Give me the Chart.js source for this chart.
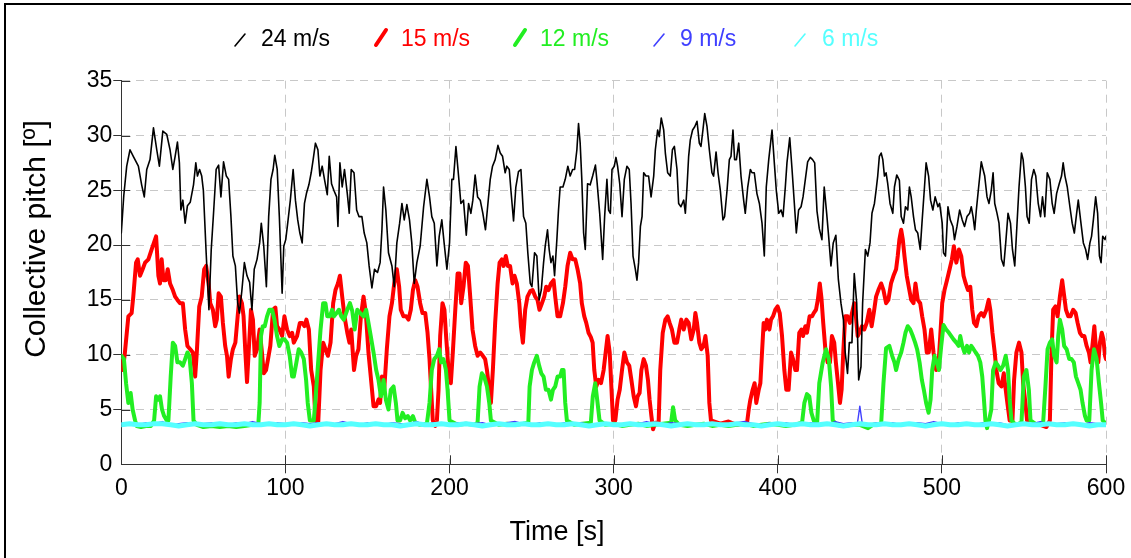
<!DOCTYPE html>
<html><head><meta charset="utf-8">
<script src="https://cdn.jsdelivr.net/npm/chart.js@4.4.0/dist/chart.umd.min.js"></script>
<style>html,body{margin:0;padding:0;background:#fff;}canvas{display:block;}</style>
</head><body>
<canvas id="c" width="1131" height="558"></canvas>
<script>
const seriesNames = ['24 m/s', '15 m/s', '12 m/s', '9 m/s', '6 m/s'];
const xTickValues = [0, 100, 200, 300, 400, 500, 600];
const yTickValues = [0, 5, 10, 15, 20, 25, 30, 35];
const xTitle = 'Time [s]';
const yTitle = 'Collective pitch [º]';

// [time s, pitch deg]
const pitch24 = [[0,21.1],[1.5,24.5],[3.3,27.2],[5.3,28.7],[7.3,28.1],[10.4,27.2],[12.4,25.5],[14,24.4],[15.5,26.9],[17.5,27.8],[19.6,30.7],[21.6,28.7],[23.2,27.2],[25.3,30.4],[27.7,30.1],[29.7,28.7],[31.4,26.9],[32.8,28.1],[34.2,29.4],[35.4,27.5],[36.3,23.2],[37.5,24.1],[38.9,22],[40.3,23.6],[42,23.9],[44,25.5],[45.4,27.5],[46.4,26.3],[47.7,26.9],[49,26.3],[50,25],[51.7,19.3],[53.4,14.1],[54.8,19.6],[56.2,22.9],[57.8,26.9],[59.3,27.3],[60.7,24.4],[62.3,27.6],[64,26.3],[65.4,26],[66.8,22.6],[68,19],[69.5,18.1],[70.9,14.7],[72,13.8],[73.5,15.9],[75,18.4],[76.6,17.2],[78.2,16.6],[79.6,14.1],[81,17.8],[82.7,18.7],[84.3,20.2],[85.3,22],[86.8,19.9],[88.4,16.2],[89.8,22.6],[91.2,26],[92.5,26.9],[93.5,28.2],[95,26.9],[96.3,22.6],[98,15.6],[99,19.9],[100.2,20.5],[101.4,22],[103,24.1],[104.7,26.9],[106.1,24.1],[107.5,22.3],[108.8,21.1],[110.2,20.2],[111.6,23.8],[112.8,24.7],[114.3,25.5],[115.7,26.6],[116.9,27.8],[118.3,29.3],[119.8,28.7],[121,26.3],[122.4,27.2],[123.8,26],[125.5,24.6],[126.7,28.1],[128.1,25.6],[129.5,25],[131.2,24.4],[132,21.7],[133.2,27.5],[134.6,25.3],[136,26.9],[137.7,24.7],[138.9,22.9],[140.1,26.9],[141.8,26.6],[143.4,23.2],[144.8,22.6],[146.6,22.6],[148,21.1],[149.6,20.2],[151,18.1],[152.7,16.1],[154.3,17.8],[156.1,17.5],[157.7,18.4],[158.8,21.4],[159.8,25.3],[161.2,23.2],[162.8,19.3],[164.9,18.1],[166.3,16.2],[167.9,20.2],[169.6,22],[171,23.8],[172.4,22.3],[174,23.7],[175.6,22.3],[177,20.2],[178.5,16.5],[180.1,18.4],[182.1,19.9],[184.2,23.5],[186.2,26],[187.8,24.4],[189.2,22.6],[190.7,22],[192.3,18.1],[193.7,20.8],[195.3,22.3],[196.7,20.2],[198.4,17.8],[200,20.2],[201.4,26],[202.4,26],[203.9,29],[205.5,26.3],[206.9,23.8],[208.5,24.1],[210.2,20.9],[211.6,23.8],[213,22.9],[214.2,24.1],[215.6,26.4],[217.1,24.4],[218.7,24.1],[220.3,22.9],[221.9,21.4],[223.4,23.8],[224.8,26],[226.2,27.2],[227.8,27.8],[229.5,29.1],[230.9,28.4],[232.3,28.1],[233.9,26.6],[234.9,27.2],[236.4,26.9],[237.4,25],[239,22.2],[240.4,25.3],[242,26.7],[243.5,26.9],[245.1,22.6],[246.5,22],[247.7,19.3],[249.2,16.5],[250.2,16.2],[251.8,19.3],[253.2,19],[254.6,15],[255.9,15.9],[257.3,18.4],[258.3,19.9],[259.7,21.4],[260.7,19.6],[261.8,18.4],[263,19],[264,17.2],[265.4,20.5],[266.4,23.2],[267.4,25.3],[269.1,25.3],[270.5,26],[272.1,27.2],[273.5,26.3],[275,26.9],[276.2,26.9],[277.6,28.7],[278.6,31.1],[279.6,29.3],[280.6,26],[281.7,21.1],[282.7,19.6],[284.1,25.6],[285.7,25.5],[287.2,26.3],[288.9,27.3],[289.8,25.9],[291.5,22.9],[293.3,18.7],[294.5,22.6],[295.9,26],[296.9,23.2],[298,22.9],[299,26.9],[300.4,27.2],[301.4,28],[302.4,27.2],[303.7,25.6],[305.1,22.6],[306.5,26],[308.1,27.2],[309.5,26.9],[310.6,23.8],[311.8,19],[313.2,17.8],[314.2,16.8],[315.2,18.4],[316.3,21.7],[317.3,22.6],[318.3,26.6],[319.7,26.3],[321.3,26.3],[322.8,24.4],[324.4,26.3],[325.4,28.7],[326.8,30.5],[327.8,29.9],[329,31.6],[330.5,30.5],[331.5,28.4],[332.9,26.6],[334.5,26.3],[335.8,28.7],[337,29],[338.6,26.9],[339.6,23.8],[341,23.5],[342.7,24.1],[343.7,22.9],[344.7,25.3],[345.7,28.1],[346.7,29.6],[348.1,30.5],[349.4,30.8],[350.8,31.3],[352.2,29.3],[353.2,29],[354.4,30.5],[355.5,32],[356.9,30.8],[358.3,28.7],[359.9,26.6],[360.9,26.3],[362.4,28.5],[363.6,26.6],[365,25],[366.6,22.3],[367.6,22.6],[369.1,25],[370.5,27.8],[371.5,28.1],[372.7,30.5],[373.7,27.8],[374.8,27.8],[376.2,29.3],[377.6,26.3],[379.2,24.1],[380.2,22.9],[381.7,25.3],[383.3,26.9],[384.3,26.6],[385.7,26.6],[387.3,24.7],[388.8,23.8],[390.4,22],[391.8,19],[393,25.3],[394.5,27.8],[396.5,30.5],[397.9,27.5],[399.1,25],[400.6,22.9],[402,23.2],[403.2,22.6],[404.6,25.3],[405.6,27.5],[407.3,29.8],[408.7,26.9],[410.1,23.8],[411.3,21.1],[412.7,23.2],[414.2,23.5],[415.4,24.4],[416.8,26],[418.2,27.6],[419.8,28],[421.2,27.8],[422.5,27.5],[423.9,23.1],[425.3,21.5],[426.9,20.5],[428.3,25.3],[429.8,22.9],[431,20.8],[432.4,18.1],[433.8,20.2],[435.4,20.9],[436.9,16.9],[438.5,14.7],[440,13.2],[441.1,10.2],[442.5,8.3],[443.6,11.1],[445.2,11.1],[446.6,17.4],[448.1,14.7],[449.3,7.7],[450.7,8.9],[451.7,14.7],[453.4,19.6],[454.8,19],[456.2,20.2],[457.4,22.9],[458.9,23.8],[459.9,25],[460.9,26.3],[461.9,28.1],[463,28.4],[464,27.8],[465,26.3],[466,26.6],[467,25.6],[468.4,23.8],[470.1,22.9],[471.1,25.3],[472.5,26.4],[474.1,25.9],[475.2,22.6],[476.6,22],[477.8,23.5],[479.2,23.2],[480.2,25.3],[481.3,24.4],[482.7,22.6],[483.9,21.4],[485.3,21.1],[486.8,19.6],[488,22.3],[489.4,25.3],[490.4,27.5],[491.9,26.3],[493.1,24.1],[494.5,23.2],[495.9,24.4],[497.6,23.5],[498.6,23.8],[500.2,22],[501,19.3],[502.2,19],[503.7,23.5],[505.1,22.3],[506.7,21.7],[507.7,20.5],[509.2,21.7],[510.8,23.2],[512.4,22.3],[513.8,21.7],[515.3,22.6],[516.9,22.9],[517.9,23.5],[519,22.6],[520,21.4],[521,23.2],[522.4,25.3],[524,27.6],[525.1,26.9],[526.1,26.3],[527.5,24.4],[528.7,23.8],[530.1,25],[531.2,26.6],[532.2,23.8],[533.6,22.9],[534.8,22],[536.3,18.7],[537.7,18.1],[538.9,20.2],[540.3,22.9],[541.8,22],[543,19.6],[544.4,18.1],[545.8,22],[547,25.3],[548.5,28.4],[549.5,27.8],[550.9,25.3],[551.9,22.6],[553.2,22],[554.6,26],[556,26.9],[557.2,26.3],[558.7,23.8],[560.1,22.6],[561.3,24.4],[562.7,22.6],[564.2,26.6],[565.8,26],[567.2,23.8],[568.4,22.9],[569.9,24.7],[571.5,25.6],[572.9,26.3],[573.9,27.5],[575,26.3],[576.4,25.3],[578,23.5],[579.4,22],[580.7,21.1],[582.1,22.9],[583.1,24.1],[584.5,22.3],[586.2,20.2],[587.6,19.6],[588.8,18.7],[590.2,20.2],[591.2,20.8],[592.3,22.3],[593.7,24.4],[594.9,22.9],[596,19],[597,18.4],[598,20.8],[599.4,20.5],[600,20.8]];

const pitch15 = [[0,9.5],[1,8.6],[2.2,10.2],[4.3,13.5],[6.3,13.8],[7.3,15.3],[9,18.4],[10,18.7],[11.4,17.2],[13,17.8],[14.5,18.4],[16.5,18.7],[18.5,19.6],[21.2,20.8],[22.6,17.2],[23.6,16.5],[24.6,18.7],[25.7,16.8],[27.1,16.8],[28.3,17.8],[29.7,16.5],[31.4,15.9],[32.8,15.3],[34.2,15],[35.8,14.7],[37.5,14.7],[38.9,12.3],[40.3,10.8],[42,10.5],[43.6,10.2],[45,8],[46,10.2],[47.5,14.4],[49,15.3],[50.5,17.8],[51.7,18.1],[53.2,16.5],[54.2,14.7],[55.8,14.1],[57.2,12.6],[58.2,13.2],[59.3,15.6],[60.7,15.3],[61.9,12.9],[63.3,10.8],[64.4,9.9],[65.4,8],[66.8,9.6],[68,10.5],[69.5,11.1],[70.9,13.5],[72,15.3],[73.5,14.7],[74.5,13.5],[75.6,10.2],[76.6,7.5],[77.6,10.2],[79,14.1],[80.2,13.2],[81.3,9.9],[82.7,10.5],[84.3,12.3],[85.7,10.2],[86.8,8.3],[88.2,8.6],[89.4,9.6],[90.8,10.8],[92.5,14.1],[93.9,14.3],[94.9,12.6],[96.3,12.3],[98,11.7],[99.4,13.5],[101,12.3],[102.6,11.7],[104.1,12],[105.1,11.1],[107.1,11.7],[108.8,12.9],[110.2,12.9],[111.6,12.6],[112.8,13.2],[114.3,12.3],[115.7,8.6],[117.3,7.1],[118.3,4],[120,3.8],[121.4,8.6],[123,11.1],[124.4,10.5],[125.9,9.9],[127.5,11.1],[129.1,14.7],[130.5,15.9],[132,16.5],[133.2,17.2],[134.6,15.3],[136,13.5],[137.7,12],[139,11.1],[140.1,12.3],[141.8,8.6],[143.1,9.9],[144.5,10.5],[146,13.5],[147.6,15.3],[149,13.8],[150.6,10.2],[152,8],[153.7,5.3],[155.3,5.3],[156.7,5.9],[157.7,5.6],[158.8,8],[160.2,6.8],[161.8,10.5],[163.4,13.5],[164.9,14.7],[166.3,16.5],[167.9,17.8],[169.3,16.2],[170.3,14.1],[171.9,13.5],[173.6,13.5],[175,13.2],[176.4,14.1],[177.7,15.9],[179.1,16.8],[180.5,16.2],[182.1,14.7],[183.5,13.8],[185.2,13.8],[186.6,12],[187.8,9.6],[188.8,6.8],[189.8,4],[191.3,3.5],[192.3,4],[193.3,6.8],[194.3,11.7],[195.7,14.7],[196.9,14.1],[197.9,11.7],[199.4,8.6],[200.8,7.4],[202,10.2],[203.5,14.1],[204.9,17.4],[206.1,17.4],[207.1,14.7],[208.5,16.2],[209.9,18.4],[211.2,18.1],[212.6,15.3],[214,12.3],[215.6,10.8],[217.1,9.9],[218.7,10.2],[220.3,9.9],[221.7,9.6],[222.8,8.6],[224.2,6.8],[225.2,5.6],[226.4,8.6],[227.8,12.9],[229.3,16.5],[230.5,18.4],[231.9,18.7],[232.9,18.1],[234.3,19],[235.5,18.1],[236.9,18.1],[238.4,16.5],[239.6,17.2],[241,16.5],[242.5,14.7],[243.5,12.6],[244.7,11.1],[246.1,14.1],[247.5,15.3],[249.2,15.8],[250.6,15.9],[252.2,15.3],[253.6,15],[254.8,14.1],[256.3,14.7],[257.7,15.3],[258.9,16.2],[260.3,15.9],[261.8,16.5],[263.4,16.8],[264.4,15.3],[265.8,13.5],[267.4,13.5],[269.1,14.7],[270.5,16.2],[271.9,18.1],[273.5,19.3],[275,18.7],[276.6,18.7],[278,17.8],[279.6,16.5],[280.6,14.7],[282.1,13.5],[283.3,12.9],[284.7,12],[286.1,11.6],[287.2,11.1],[288.2,8.6],[289.4,7.1],[290.9,7.7],[292.3,7.4],[293.9,8.6],[294.9,9.9],[296.3,11.7],[297.6,10.2],[298.6,7.1],[299.6,4],[301,4],[302.4,5.9],[303.7,6.8],[305.1,8.6],[306.5,10.2],[308.1,9.3],[309.5,9],[310.8,7.7],[312.2,6.2],[313.6,5.3],[314.6,6.2],[315.8,6.5],[316.9,8.6],[318.3,9.6],[319.7,9],[320.9,7.7],[321.9,5.9],[323,4.4],[324,3.2],[325.4,3.8],[327.4,3.8],[328.4,8.6],[329.9,12],[331.5,13.2],[332.9,13.5],[334.1,12.9],[335.5,12.3],[337,11.1],[338.6,11.1],[340,12.3],[341.2,13.2],[342.7,12.3],[344.3,13.2],[345.7,12.9],[347.3,11.4],[348.8,12.3],[349.8,13.8],[350.8,12.9],[352.2,11.1],[353.4,10.5],[354.8,10.8],[355.9,11.7],[357.3,9.9],[358.3,5.6],[359.3,4],[365,3.7],[370,3.9],[375,3.6],[381.3,3.8],[382.3,5],[383.3,5.9],[384.7,6.8],[385.9,7.4],[386.9,5.6],[388.4,6.8],[389.4,7.4],[390.4,10.2],[391.4,12.9],[392.4,12.3],[393.4,13.2],[394.9,12.3],[395.9,13.2],[397.1,13.5],[398.5,14.1],[399.9,14.4],[401.2,13.8],[402.6,11.7],[404,8.6],[405.2,6.8],[406.6,6.8],[408.1,10.2],[409.3,9.6],[410.7,8.6],[411.7,8.6],[413.1,12],[414.4,12.3],[415.4,11.7],[416.8,12.6],[417.8,12],[419.4,13.5],[420.9,13.5],[421.9,13.8],[423.3,14.1],[424.4,15],[425.6,16.5],[426.6,15.2],[427.7,12.9],[429,10.5],[430.4,9.3],[431.8,9.3],[433,11.7],[434.4,11.1],[435.4,9.3],[436.5,7.7],[437.9,5.6],[438.9,6.8],[439.9,10.2],[441.1,13.5],[442.5,13.5],[443.9,12.9],[445.2,13.8],[446.6,14.7],[447.6,13.5],[448.7,11.7],[449.7,12],[451.3,12.6],[452.7,12.3],[454.2,12.9],[455.8,14.1],[457.2,12.6],[458.5,13.8],[459.9,15.3],[461.3,15.9],[463,16.5],[464.4,15.9],[466,14.7],[467.4,15],[469,16.5],[470.5,17.2],[472.1,17.8],[473.1,19],[474.1,20.5],[475.2,21.4],[476.2,20.5],[477.2,19],[478.6,17.2],[479.8,16.2],[481.3,15],[482.7,14.7],[483.9,16.5],[485.3,15],[486.8,14.7],[488,13.5],[489.4,12.3],[490.8,10.2],[492,10.2],[493.5,12.3],[494.9,10.2],[496.5,8.6],[497.9,9],[499,11.7],[500.2,14.7],[501.6,15.9],[503.1,16.8],[504.7,17.8],[506.1,18.7],[507.3,19.9],[508.8,18.4],[510.4,19.6],[511.8,19],[513.2,17.2],[514.5,16.5],[515.9,15.9],[517.3,16.2],[518.5,14.1],[519.6,12.9],[521,12.6],[522.4,13.5],[524,13.8],[525.5,13.5],[527.1,14.1],[528.5,15],[529.5,14.1],[530.8,12],[532.2,10.2],[533.2,8.6],[534.6,7.4],[536.3,7.1],[537.7,8.3],[538.9,6.8],[539.9,5.6],[541.3,4],[543,4],[544,7.7],[545.4,10.2],[547,11.1],[548.5,10.2],[549.5,7.4],[550.9,5.6],[551.9,4],[555,3.7],[560,3.6],[563.7,3.4],[565.8,4],[566.8,10.2],[567.8,14.1],[569.2,14.4],[570.5,13.5],[571.9,15.3],[573.3,16.8],[574.3,15.6],[575.6,14.1],[577,13.5],[578.4,13.5],[580,14.1],[581.5,13.8],[582.7,12.9],[584.1,12],[585.5,11.7],[586.8,11.7],[588.2,10.8],[589.6,10.2],[590.6,9.3],[591.9,11.1],[592.9,12.6],[593.9,10.5],[595.3,9.3],[596.3,11.1],[597.4,12],[598.4,11.4],[599.4,9.9],[600,9.6]];

const pitch12 = [[0,9.9],[1.6,9.6],[2.9,7.4],[4.3,5.6],[5.7,6.5],[6.9,5],[8.4,4],[9.4,3.5],[12,3.4],[15,3.5],[18,3.5],[20,4],[21.2,6.2],[22.6,5.9],[23.6,6.2],[24.8,5],[26.1,4.4],[27.7,4],[28.7,4],[30.1,8],[31.4,11.1],[32.8,10.8],[34.2,9.3],[35.8,9.3],[37.5,9],[38.9,9.6],[40.3,10.2],[41.5,9.9],[43,7.4],[44,4],[46,3.6],[50,3.4],[55,3.5],[60,3.4],[65,3.5],[70,3.4],[75,3.5],[80,3.6],[83.5,3.7],[84.3,5.6],[85.1,11.7],[86.2,12.6],[87.4,12.6],[88.8,13.5],[90.2,14.1],[91.9,14.1],[93.3,13.2],[94.9,11.7],[96.3,10.8],[98,11.4],[99.4,11.4],[101,11.1],[102.6,9.9],[104.1,8],[105.1,8],[106.7,9.3],[108.1,10.5],[109.6,10.2],[111.2,9.6],[112.6,7.7],[113.6,5.6],[114.9,4],[117.3,4],[118.3,5.9],[119.8,9],[121.4,12.3],[123,14.7],[124.4,14.7],[125.5,13.5],[127.1,13.5],[128.5,14.1],[129.5,13.5],[131.2,13.8],[132.6,14.1],[134,13.5],[135.6,13.2],[137.7,14.1],[139.3,14.7],[140.7,14],[142.2,12.3],[143.8,14.1],[145.5,13.8],[147.6,13.5],[149.2,14.1],[150.6,12.9],[152,11.7],[153.7,10.2],[155.3,8.6],[156.7,7.7],[158.2,6.2],[159.8,7.7],[161.2,5.9],[162.8,5],[164.2,6.8],[165.9,7.1],[167.3,5.6],[168.3,4],[169.9,4],[171.4,4.7],[173,4.2],[174.6,4.4],[176,4],[177.7,4.4],[179.1,3.8],[182,3.6],[186.2,3.7],[187.8,5.6],[189.2,8.6],[190.7,9.6],[192.3,9.9],[193.7,10.5],[194.9,9.3],[196.3,9.6],[197.8,8.6],[198.8,6.8],[200,4],[205,3.6],[210,3.7],[215,3.6],[217.1,3.8],[218.3,7.1],[219.7,8.3],[221.1,8],[222.8,7.1],[224.2,5.6],[225.2,4],[230,3.6],[235,3.7],[240,3.6],[245,3.7],[248,3.8],[248.8,7.1],[250.2,8.6],[251.6,9.3],[253.2,9.9],[254.6,9],[255.9,8.3],[257.3,8],[258.7,6.8],[260.3,6.8],[261.8,5.9],[263,6.8],[264.4,7.1],[265.8,8],[267.4,8],[268.5,8.6],[269.5,8.6],[270.5,5.6],[271.5,4],[276,3.6],[281,3.7],[286.1,3.8],[287.3,6.2],[288.8,7.4],[290.2,5.6],[291.4,4],[295,3.6],[300,3.7],[305,3.5],[310,3.6],[315,3.7],[320,3.5],[325,3.6],[330,3.7],[335,3.8],[336.2,5.2],[337.5,4],[340,3.6],[345,3.5],[350,3.6],[355,3.7],[360,3.5],[365,3.6],[370,3.5],[375,3.6],[380,3.7],[385,3.5],[390,3.6],[395,3.7],[400,3.6],[405,3.5],[410,3.6],[414.8,3.8],[416.2,5.6],[417.8,6.4],[419.2,6.2],[420.5,4.7],[421.9,4],[424,3.8],[425.3,7.4],[427.4,9.3],[429.4,10.5],[431.1,9.6],[432.5,7.1],[433.5,4],[436,3.6],[440,3.5],[445,3.6],[450,3.6],[455,3.3],[458,3.6],[463,3.7],[464.4,7.4],[466,10.6],[468,10.8],[469.7,9.9],[471.1,9.3],[472.1,8.6],[473.7,9.6],[475.2,10.2],[476.6,11.1],[477.8,12],[479.2,12.6],[480.7,12.3],[482.3,11.7],[483.7,11.1],[484.9,10.5],[486.4,9.3],[487.8,7.7],[489,6.8],[490.4,5.6],[491.9,4.7],[493.1,5.9],[494.1,8.6],[495.5,9.9],[496.9,9.3],[498.2,8.6],[499.6,10.8],[501,12.7],[502.6,12.3],[504.3,12],[505.7,11.7],[507.1,11.4],[508.8,11.1],[510.2,10.8],[511.2,11.7],[512.4,10.8],[513.8,10.2],[515.3,10.8],[516.5,10.2],[517.9,10.8],[519.3,10.5],[520.6,10.2],[522,9.9],[523.4,9.3],[524.6,8],[525.5,6.2],[526.5,4],[527.5,3.3],[528.7,4],[530.1,5],[531.2,8.6],[532.8,9.3],[534.2,9],[535.7,8.6],[537.3,9],[538.9,9.9],[540.3,8.6],[541.3,5.9],[542.4,4],[545,3.6],[548.5,3.8],[549.9,8],[551.5,8.6],[553,6.8],[554,4],[558,3.6],[561.7,3.8],[563.1,7.1],[564.4,10.5],[565.8,11.1],[567.2,11.4],[568.4,9.9],[569.9,9.3],[570.9,11.7],[571.9,13.2],[573.3,12.3],[574.5,10.8],[576,10.5],[577.6,9.6],[579,9.6],[580.4,9.3],[581.7,8],[583.1,7.4],[584.5,6.8],[585.7,5.6],[587.2,4.4],[588.2,4],[589.8,4],[591.2,8.6],[592.7,10.5],[594.3,9.6],[595.7,7.4],[597,5.6],[598,4],[600,3.7]];

const pitch9 = [[0,3.7],[5,3.8],[10,3.6],[15,3.8],[20,3.7],[25,3.9],[30,3.6],[35,3.7],[40,3.8],[45,3.6],[50,3.7],[55,3.8],[60,3.7],[65,3.6],[70,3.8],[75,3.7],[80,3.9],[85,3.7],[90,3.6],[95,3.8],[100,3.7],[105,3.6],[110,3.8],[115,3.7],[120,3.8],[125,3.6],[130,3.7],[135,3.9],[140,3.7],[145,3.6],[150,3.8],[155,3.7],[160,3.6],[165,3.8],[170,3.7],[175,3.7],[180,3.9],[185,3.6],[190,3.8],[195,3.7],[200,3.6],[205,3.8],[210,3.7],[215,3.7],[220,3.8],[225,3.6],[230,3.7],[235,3.8],[240,3.9],[245,3.7],[250,3.6],[255,3.8],[260,3.7],[265,3.6],[270,3.8],[275,3.7],[280,3.8],[285,3.6],[290,3.7],[295,3.8],[300,3.7],[305,3.6],[310,3.8],[315,3.7],[320,3.9],[325,3.7],[330,3.6],[335,3.8],[340,3.7],[345,3.8],[350,3.6],[355,3.7],[360,3.8],[365,3.7],[370,3.6],[375,3.8],[380,3.9],[385,3.7],[390,3.6],[395,3.8],[400,3.7],[405,3.8],[410,3.6],[415,3.7],[420,3.8],[425,3.7],[430,3.6],[435,3.9],[440,3.7],[445,3.8],[448.5,3.7],[450,5.3],[451.5,3.7],[455,3.6],[460,3.8],[465,3.7],[470,3.8],[475,3.6],[480,3.7],[485,3.8],[490,3.7],[495,3.9],[500,3.7],[505,3.6],[510,3.8],[515,3.7],[520,3.6],[525,3.8],[530,3.7],[535,3.8],[540,3.6],[545,3.7],[550,3.8],[555,3.7],[560,3.9],[565,3.6],[570,3.7],[575,3.8],[580,3.7],[585,3.6],[590,3.8],[595,3.7],[600,3.7]];

const pitch6 = [[0,3.6],[5,3.7],[10,3.6],[15,3.6],[20,3.7],[25,3.7],[30,3.6],[35,3.5],[40,3.6],[45,3.7],[50,3.6],[55,3.6],[60,3.7],[65,3.6],[70,3.6],[75,3.7],[80,3.6],[85,3.6],[90,3.7],[95,3.6],[100,3.6],[105,3.7],[110,3.6],[115,3.5],[120,3.6],[125,3.7],[130,3.6],[135,3.6],[140,3.7],[145,3.6],[150,3.6],[155,3.7],[160,3.6],[165,3.6],[170,3.5],[175,3.6],[180,3.7],[185,3.6],[190,3.6],[195,3.7],[200,3.6],[205,3.6],[210,3.7],[215,3.6],[220,3.5],[225,3.6],[230,3.7],[235,3.6],[240,3.6],[245,3.7],[250,3.6],[255,3.6],[260,3.7],[265,3.6],[270,3.6],[275,3.7],[280,3.6],[285,3.5],[290,3.6],[295,3.7],[300,3.6],[305,3.6],[310,3.7],[315,3.6],[320,3.6],[325,3.7],[330,3.6],[335,3.5],[340,3.6],[345,3.7],[350,3.6],[355,3.6],[360,3.7],[365,3.6],[370,3.6],[375,3.7],[380,3.6],[385,3.6],[390,3.5],[395,3.6],[400,3.7],[405,3.6],[410,3.6],[415,3.7],[420,3.6],[425,3.6],[430,3.7],[435,3.6],[440,3.5],[445,3.6],[450,3.7],[455,3.6],[460,3.6],[465,3.7],[470,3.6],[475,3.6],[480,3.7],[485,3.6],[490,3.5],[495,3.6],[500,3.7],[505,3.6],[510,3.6],[515,3.7],[520,3.6],[525,3.6],[530,3.7],[535,3.6],[540,3.5],[545,3.6],[550,3.7],[555,3.6],[560,3.6],[565,3.7],[570,3.6],[575,3.6],[580,3.7],[585,3.6],[590,3.5],[595,3.6],[600,3.6]];

const seriesData = [pitch24, pitch15, pitch12, pitch9, pitch6];
const seriesColors = ['#000000', '#ff0000', '#22ee22', '#4040ff', '#55ffff'];
const seriesWidths = [1.6, 4, 4, 1.4, 5];
const seriesOrder = [2, 4, 3, 1, 0];

const FONT = "'Liberation Sans', Arial, sans-serif";
const AXIS = '#333333';
const GRID = '#c8c8c8';

const decor = {
  id: 'decor',
  beforeDraw(chart) {
    const c = chart.ctx;
    c.save();
    c.fillStyle = '#fff';
    c.fillRect(0, 0, chart.width, chart.height);
    c.fillStyle = '#000';
    c.fillRect(4, 3, chart.width - 4, 2);
    c.fillRect(4, 3, 2, chart.height - 3);
    c.restore();
  },
  beforeDatasetsDraw(chart) {
    const c = chart.ctx, xs = chart.scales.x, ys = chart.scales.y, a = chart.chartArea;
    c.save();
    c.strokeStyle = AXIS; c.lineWidth = 1;
    c.beginPath();
    yTickValues.forEach(v => { if (v === 0) return; const y = Math.round(ys.getPixelForValue(v)) + 0.5; c.moveTo(a.left, y); c.lineTo(a.left + 9, y); });
    xTickValues.forEach(v => { if (v === 0) return; const x = Math.round(xs.getPixelForValue(v)) + 0.5; c.moveTo(x, a.bottom); c.lineTo(x, a.bottom - 9); });
    c.stroke();
    c.restore();
  },
  afterDraw(chart) {
    const c = chart.ctx;
    c.save();
    // legend
    const slashX = [240, 381, 520, 659, 800];
    const textX = [261, 401, 540, 680, 822];
    const lw = [1.6, 4, 4, 1.6, 1.6];
    c.font = '23px ' + FONT;
    c.textBaseline = 'alphabetic';
    c.textAlign = 'left';
    seriesNames.forEach((name, i) => {
      c.strokeStyle = seriesColors[i];
      c.lineWidth = lw[i];
      c.lineCap = 'round';
      const thick = lw[i] > 2;
      c.beginPath();
      if (thick) { c.moveTo(slashX[i] - 5, 45); c.lineTo(slashX[i] + 5, 30); }
      else { c.moveTo(slashX[i] - 5, 46); c.lineTo(slashX[i] + 5, 34); }
      c.stroke();
      c.fillStyle = seriesColors[i];
      c.fillText(name, textX[i], 46);
    });
    // axis titles
    c.fillStyle = '#000';
    c.font = '27px ' + FONT;
    c.textAlign = 'center';
    c.fillText(xTitle, 557, 540);
    c.translate(45, 239);
    c.rotate(-Math.PI / 2);
    c.font = '30px ' + FONT;
    c.fillText(yTitle, 0, 0);
    c.restore();
  }
};

const zeroHidden = (col) => (ctx) => (ctx.tick && ctx.tick.value === 0) ? 'rgba(0,0,0,0)' : col;

new Chart(document.getElementById('c'), {
  type: 'line',
  data: {
    datasets: seriesData.map((s, i) => ({
      label: seriesNames[i],
      data: s.map(p => ({x: p[0], y: p[1]})),
      borderColor: seriesColors[i],
      backgroundColor: seriesColors[i],
      borderWidth: seriesWidths[i],
      pointRadius: 0,
      tension: 0,
      fill: false,
      borderJoinStyle: 'round',
      borderCapStyle: 'round',
      order: seriesOrder[i]
    }))
  },
  options: {
    responsive: false,
    animation: false,
    devicePixelRatio: 1,
    layout: { padding: { left: 0, right: 25, top: 80.7, bottom: 0 } },
    plugins: { legend: { display: false }, tooltip: { enabled: false } },
    scales: {
      x: {
        type: 'linear', min: 0, max: 600,
        afterBuildTicks: (s) => { s.ticks = xTickValues.map(v => ({value: v})); },
        ticks: { font: { size: 23, family: FONT }, color: '#000', padding: 2, maxRotation: 0, autoSkip: false },
        grid: { color: zeroHidden(GRID), tickColor: zeroHidden(AXIS), tickLength: 9, lineWidth: 1 },
        border: { display: true, color: AXIS, width: 1, dash: [8, 6] },
        afterFit: (s) => { s.height = 93.7; }
      },
      y: {
        type: 'linear', min: 0, max: 35,
        afterBuildTicks: (s) => { s.ticks = yTickValues.map(v => ({value: v})); },
        ticks: { font: { size: 23, family: FONT }, color: '#000', padding: 1, autoSkip: false },
        grid: { color: zeroHidden(GRID), tickColor: zeroHidden(AXIS), tickLength: 8, lineWidth: 1 },
        border: { display: true, color: AXIS, width: 1, dash: [8, 6] },
        afterFit: (s) => { s.width = 121.3; }
      }
    }
  },
  plugins: [decor]
});
</script>
</body></html>
